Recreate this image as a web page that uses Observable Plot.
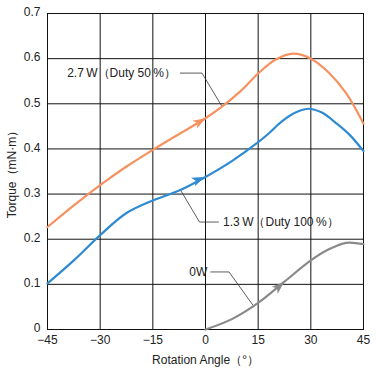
<!DOCTYPE html>
<html>
<head>
<meta charset="utf-8">
<script src="https://cdn.jsdelivr.net/npm/d3@7"></script>
<script src="https://cdn.jsdelivr.net/npm/@observablehq/plot@0.6"></script>
<style>
  html, body { margin: 0; padding: 0; background: #fff; }
</style>
</head>
<body>
<div id="chart"></div>
<script>
// ---- data ----
const xTicks = [-45, -30, -15, 0, 15, 30, 45];
const xTickLabels = ["\u221245", "\u221230", "\u221215", "0", "15", "30", "45"];
const yTicks = [0, 0.1, 0.2, 0.3, 0.4, 0.5, 0.6, 0.7];
const yTickLabels = ["0", "0.1", "0.2", "0.3", "0.4", "0.5", "0.6", "0.7"];

const seriesNames = ["2.7\u2009W\uFF08Duty 50\u2009%\uFF09", "1.3\u2009W\uFF08Duty 100\u2009%\uFF09", "0W"];

const angle27  = [-45, -37.5, -30, -22.5, -15, -7.5, 0, 4.6, 10, 15, 20, 25, 30, 35, 40, 45];
const torque27 = [0.227, 0.275, 0.320, 0.361, 0.398, 0.433, 0.468, 0.493, 0.528, 0.567, 0.598, 0.611, 0.600, 0.570, 0.524, 0.456];

const angle13  = [-45, -37.5, -30, -22.5, -15, -7.5, 0, 7.5, 15, 18.4, 21, 24.1, 27, 29.3, 33, 37.4, 41.2, 45];
const torque13 = [0.102, 0.153, 0.209, 0.258, 0.286, 0.308, 0.338, 0.373, 0.415, 0.437, 0.456, 0.474, 0.485, 0.489, 0.481, 0.456, 0.430, 0.395];

const angle0   = [0, 7.5, 15, 22.5, 30, 35, 40, 45];
const torque0  = [0, 0.023, 0.059, 0.106, 0.153, 0.177, 0.192, 0.189];

// arrowheads on curves (tip position, direction in degrees)
const arrowSeries = [0, 1, 2];
const arrowX = [0, -0.3, 22.4];
const arrowY = [0.468, 0.338, 0.105];
const arrowDir = [59, 66, 49];

// annotation labels and leader lines
const labelX = [-8.4, 5.0, 0.5];
const labelY = [0.568, 0.238, 0.1275];
const leaderSeries = [0, 0, 0, 1, 1, 1, 2, 2, 2];
const leaderX = [-7.2, -1.0, 4.7, -7.2, -1.7, 3.7, 1.5, 6.7, 13.5];
const leaderY = [0.568, 0.568, 0.494, 0.310, 0.238, 0.238, 0.1275, 0.1275, 0.054];

const colors = ["#f6925f", "#2f8bd1", "#8a8a8a"];

// ---- build tables ----
const curves = [
  ...angle27.map((a, i) => ({s: 0, x: a, y: torque27[i]})),
  ...angle13.map((a, i) => ({s: 1, x: a, y: torque13[i]})),
  ...angle0.map((a, i) => ({s: 2, x: a, y: torque0[i]}))
];
const arrows = arrowSeries.map((s, i) => ({s, x: arrowX[i], y: arrowY[i], r: arrowDir[i]}));
const labels = seriesNames.map((t, i) => ({t, x: labelX[i], y: labelY[i]}));
const leaders = leaderSeries.map((s, i) => ({s, x: leaderX[i], y: leaderY[i]}));

const arrowSymbol = {
  draw(ctx) {
    ctx.moveTo(0, 0);
    ctx.lineTo(4.6, 12.5);
    ctx.lineTo(0, 9.5);
    ctx.lineTo(-4.6, 12.5);
    ctx.closePath();
  }
};

const font = "'Liberation Sans', Arial, Helvetica, sans-serif";

const chart = Plot.plot({
  width: 376,
  height: 375,
  marginLeft: 47,
  marginRight: 13,
  marginTop: 13,
  marginBottom: 46,
  style: {fontFamily: font, fontSize: "12px", color: "#222", background: "#fff", overflow: "visible"},
  x: {domain: [-45, 45]},
  y: {domain: [0, 0.7]},
  marks: [
    Plot.gridX(xTicks, {stroke: "#111", strokeOpacity: 1, strokeWidth: 1}),
    Plot.gridY(yTicks, {stroke: "#111", strokeOpacity: 1, strokeWidth: 1}),
    Plot.frame({stroke: "#111", strokeWidth: 1}),
    Plot.axisX(xTicks, {
      tickSize: 0, tickPadding: 6,
      tickFormat: (d) => xTickLabels[xTicks.indexOf(d)],
      label: "Rotation Angle\uFF08\u00B0\uFF09", labelAnchor: "center", labelArrow: "none", labelOffset: 34,
      fill: "#222"
    }),
    Plot.axisY(yTicks, {
      tickSize: 0, tickPadding: 7, dy: -1,
      tickFormat: (d) => yTickLabels[yTicks.indexOf(d)],
      label: "Torque\uFF08mN\u00B7m\uFF09", labelAnchor: "center", labelArrow: "none", labelOffset: 40,
      fill: "#222"
    }),
    Plot.line(leaders, {x: "x", y: "y", z: "s", stroke: "#333", strokeWidth: 0.8}),
    Plot.line(curves, {x: "x", y: "y", z: "s", stroke: (d) => colors[d.s], curve: "catmull-rom", strokeWidth: 2.2}),
    Plot.dot(arrows, {x: "x", y: "y", rotate: "r", symbol: arrowSymbol, fill: (d) => colors[d.s], stroke: "none", r: 5}),
    Plot.text(labels, {filter: (d, i) => i !== 1, x: "x", y: "y", text: "t", textAnchor: "end", fill: "#222", fontSize: 12}),
    Plot.text(labels, {filter: (d, i) => i === 1, x: "x", y: "y", text: "t", textAnchor: "start", fill: "#222", fontSize: 12})
  ]
});
document.getElementById("chart").appendChild(chart);
</script>
</body>
</html>
